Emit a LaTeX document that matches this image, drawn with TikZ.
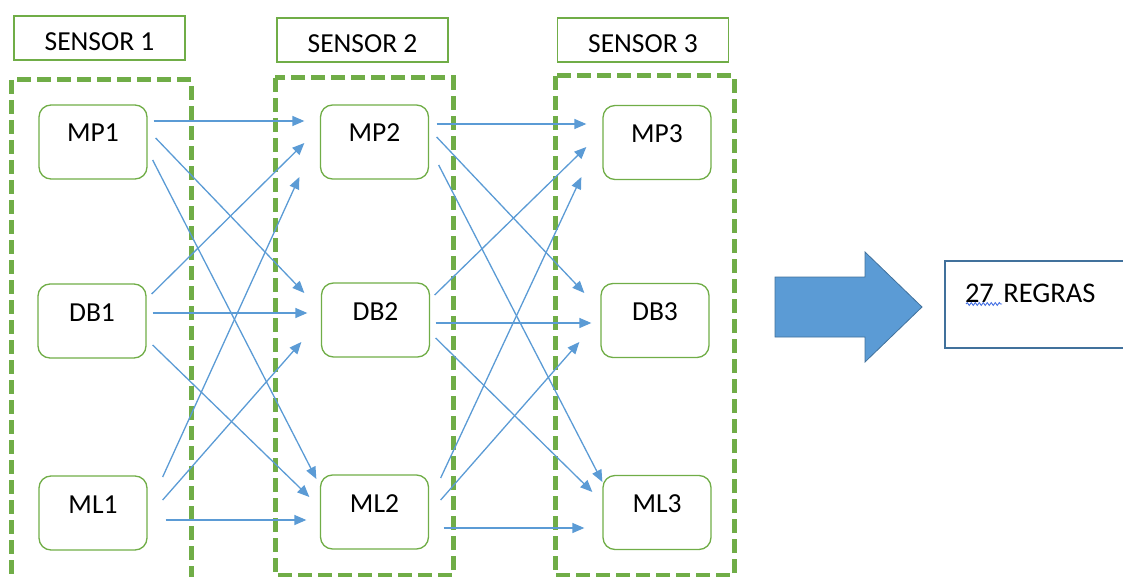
\documentclass[tikz,border=0pt]{standalone}
\usepackage{fontspec}
\setmainfont{Carlito}
\usetikzlibrary{arrows.meta,positioning}
\usetikzlibrary{decorations.pathmorphing}
\definecolor{sgreen}{HTML}{70AD47}
\definecolor{lblue}{HTML}{5B9BD5}
\definecolor{dblue}{HTML}{41719C}
\tikzset{cell/.style={draw=sgreen,line width=1.3pt,rounded corners=12pt,minimum width=108pt,minimum height=74pt,text height=20pt,text depth=20pt}}
\tikzset{title/.style={draw=sgreen,line width=1.3pt,minimum width=171pt,minimum height=44pt,text height=25pt,text depth=0pt}}
\tikzset{group/.style={draw=sgreen,line width=5pt,dash pattern=on 14pt off 6pt}}
\tikzset{link/.style={draw=lblue,line width=1.3pt,-{Triangle[length=12pt,width=10pt]}}}
\tikzset{rulebox/.style={draw=dblue,line width=1.2pt,minimum width=180pt,minimum height=87pt,inner xsep=20pt,text width=140pt,align=left,text height=20pt,text depth=25pt}}

\begin{document}
\begin{tikzpicture}[x=1pt,y=-1pt,font=\fontsize{27.5}{33}\selectfont]
\useasboundingbox (0,0) rectangle (1123,577);
% \draw[help lines] (0,0) grid (1123,577);
\draw[group] (11,80) rectangle (191,600);
\draw[group] (275,78) rectangle (453,575);
\draw[group] (555,76) rectangle (734,575);
%
\node (s1) [title] at (99.5,38) {SENSOR 1};
\node (s2) [title] at (362.5,40) {SENSOR 2};
\node (s3) [title] at (643,40) {SENSOR 3};
%
\node (mp1) [cell] at (93,142) {MP1};
\node (db1) [cell] at (92,321) {DB1};
\node (ml1) [cell] at (93,513) {ML1};
\node (mp2) [cell] at (374.5,142) {MP2};
\node (db2) [cell] at (375.5,320) {DB2};
\node (ml2) [cell] at (374.5,512) {ML2};
\node (mp3) [cell] at (657,142.5) {MP3};
\node (db3) [cell] at (655,320.5) {DB3};
\node (ml3) [cell] at (657,512.5) {ML3};
%
\draw[link] ([shift={(6,-21)}]mp1.east) -- ([shift={(-15.5,-21)}]mp2.west);
\draw[link] ([shift={(8,-4)}]mp1.east) -- ([shift={(-16.5,-27)}]db2.west);
\draw[link] ([shift={(5,18)}]mp1.east) -- ([shift={(-3.5,-33)}]ml2.west);
\draw[link] ([shift={(5,-27)}]db1.east) -- ([shift={(-15.5,1)}]mp2.west);
\draw[link] ([shift={(6,-8)}]db1.east) -- ([shift={(-13.5,-7)}]db2.west);
\draw[link] ([shift={(6,24)}]db1.east) -- ([shift={(-10.5,-15)}]ml2.west);
\draw[link] ([shift={(15,-36)}]ml1.east) -- ([shift={(-20.5,35)}]mp2.west);
\draw[link] ([shift={(15,-13)}]ml1.east) -- ([shift={(-19.5,22)}]db2.west);
\draw[link] ([shift={(18,7)}]ml1.east) -- ([shift={(-13.5,8)}]ml2.west);
%
\draw[link] ([shift={(7.5,-18)}]mp2.east) -- ([shift={(-16,-18.5)}]mp3.west);
\draw[link] ([shift={(7.5,-5)}]mp2.east) -- ([shift={(-16,-27.5)}]db3.west);
\draw[link] ([shift={(9.5,23)}]mp2.east) -- ([shift={(0,-30.5)}]ml3.west);
\draw[link] ([shift={(4.5,-25)}]db2.east) -- ([shift={(-16,4.5)}]mp3.west);
\draw[link] ([shift={(5.5,3)}]db2.east) -- ([shift={(-9,2.5)}]db3.west);
\draw[link] ([shift={(5.5,18)}]db2.east) -- ([shift={(-10,-20.5)}]ml3.west);
\draw[link] ([shift={(11.5,-34)}]ml2.east) -- ([shift={(-21,34.5)}]mp3.west);
\draw[link] ([shift={(11.5,-12)}]ml2.east) -- ([shift={(-21,21.5)}]db3.west);
\draw[link] ([shift={(14.5,16)}]ml2.east) -- ([shift={(-18,15.5)}]ml3.west);
%
\filldraw[fill=lblue,draw=dblue,line width=0.8pt] (775,277) -- (865,277) -- (865,252) -- (922,307) -- (865,362) -- (865,337) -- (775,337) -- cycle;
\node (rules) [rulebox,font=\fontsize{28.5}{34}\selectfont] at (1035,304.5) {27 REGRAS};
\draw[lblue!70!blue,line width=0.9pt,decorate,decoration={snake,amplitude=1.4pt,segment length=4pt}] (966,304) -- (1002,304);
\end{tikzpicture}
\end{document}
